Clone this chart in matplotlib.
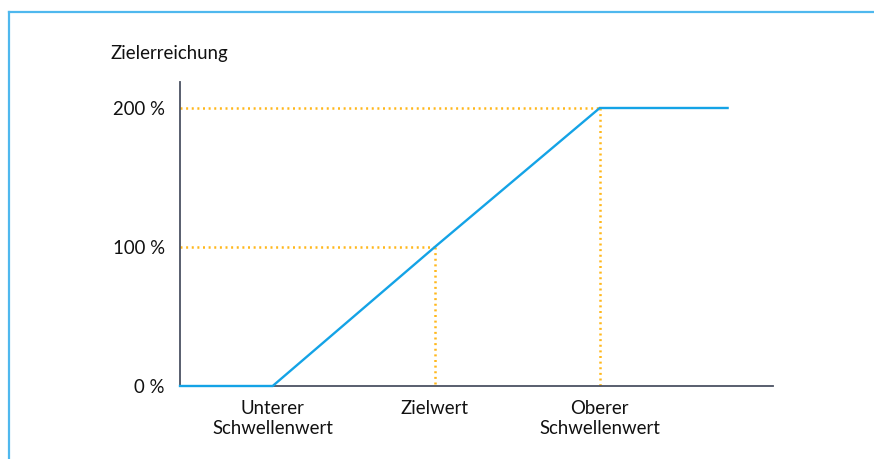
import matplotlib
matplotlib.use("Agg")
import matplotlib.pyplot as plt
from matplotlib.lines import Line2D

# Data
curve_x = [0, 1.0, 2.75, 4.53, 5.91]
curve_y = [0, 0, 100, 200, 200]
marker_x = [2.75, 4.53]        # Zielwert, Oberer Schwellenwert
marker_y = [100, 200]
tick_pos = [1.0, 2.75, 4.53]
tick_labels = ["Unterer\nSchwellenwert", "Zielwert", "Oberer\nSchwellenwert"]
ytick_pos = [0, 100, 200]
ytick_labels = ["0 %", "100 %", "200 %"]
ylabel = "Zielerreichung"

W, H = 874, 459
fig = plt.figure(figsize=(W / 100, H / 100), dpi=100)
plt.rcParams['font.family'] = ['Lato', 'DejaVu Sans']

# open frame (left and top edges)
fig.add_artist(Line2D([9 / W, 9 / W], [0, 1 - 12 / H], color="#4fb8ee", lw=1.6,
                      transform=fig.transFigure))
fig.add_artist(Line2D([9 / W, 1], [1 - 12 / H, 1 - 12 / H], color="#4fb8ee", lw=1.6,
                      transform=fig.transFigure))

ax = fig.add_axes([180 / W, (H - 386) / H, 593 / W, 304 / H])
ax.set_xlim(0, 6.4)
ax.set_ylim(0, 218.7)

orange = "#ffb81c"
dot = (0, (0.8, 1.45))
for mx, my in zip(marker_x, marker_y):
    ax.plot([0, mx], [my, my], color=orange, lw=1.8, linestyle=dot,
            zorder=2, clip_on=False)
    ax.plot([mx, mx], [my, 0], color=orange, lw=1.8, linestyle=dot,
            zorder=2, clip_on=False)

ax.plot(curve_x, curve_y, color="#14a3e6", lw=1.7, zorder=4, clip_on=False,
        solid_joinstyle="miter")

for s in ["top", "right"]:
    ax.spines[s].set_visible(False)
for s in ["left", "bottom"]:
    ax.spines[s].set_color("#4b5262")
    ax.spines[s].set_linewidth(1.3)

fs = 13.4
ax.set_xticks(tick_pos)
ax.set_xticklabels(tick_labels, fontsize=fs, color="#111111", linespacing=1.2)
ax.set_yticks(ytick_pos)
ax.set_yticklabels(ytick_labels, fontsize=fs, color="#111111")
ax.tick_params(axis="both", length=0)
ax.tick_params(axis="y", pad=11)
ax.tick_params(axis="x", pad=10)

fig.text(110 / W, 1 - 53 / H, ylabel, fontsize=fs, color="#111111",
         ha="left", va="center")

fig.savefig("out.png", dpi=100)
